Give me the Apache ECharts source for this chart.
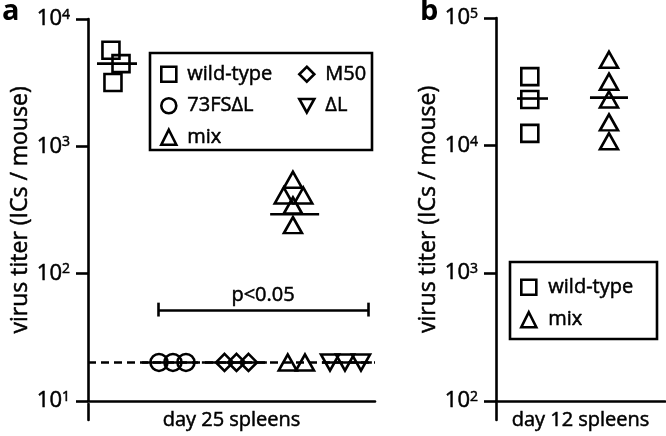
<!DOCTYPE html>
<html><head><meta charset="utf-8">
<script src="https://cdn.jsdelivr.net/npm/echarts@6/dist/echarts.min.js"></script>
<style>html,body{margin:0;padding:0;background:#fff}#c{width:666px;height:436px}</style>
</head><body><div id="c"></div>
<script>
// ---- Panel a : day 25 spleens (x = group position + jitter, y = titer) ----
const wildTypeA_x = [0.40, 0.575, 0.435];
const wildTypeA_y = [5680, 4460, 3170];
const fs73_x = [1.237, 1.48, 1.707];
const fs73_y = [20, 20, 20];
const m50_x = [2.378, 2.587, 2.796];
const m50_y = [20, 20, 20];
const mixA_x = [3.57, 3.41, 3.75, 3.57, 3.57, 3.48, 3.78];
const mixA_y = [546, 410, 410, 343, 240, 20, 20];
const dL_x = [4.216, 4.477, 4.756];
const dL_y = [20, 20, 20];
const mediansA_x = [0.505, 1.43, 2.55, 3.6, 4.51];
const mediansA_y = [4460, 20, 20, 292, 20];
const detectionLimit = 20;
const pBracket = {x0: 1.22, x1: 4.878, y: 51, yLow: 45.9, yHigh: 59, text: 'p<0.05'};

// ---- Panel b : day 12 spleens ----
const wildTypeB_x = [0.40, 0.40, 0.40];
const wildTypeB_y = [34700, 22950, 12470];
const mixB_x = [1.337, 1.337, 1.337, 1.337, 1.337];
const mixB_y = [47100, 31700, 22950, 15200, 10820];
const mediansB_x = [0.432, 1.337];
const mediansB_y = [23380, 23780];

// text
const yTitle = 'virus titer (ICs / mouse)';
const xTitleA = 'day 25 spleens';
const xTitleB = 'day 12 spleens';

// styles (not data)
const medianWidthsA = [40, 56, 65, 49, 50];
const medianWidthsB = [31, 38];
const FONT = "'Open Sans', sans-serif";
const TB = {textBorderColor: '#000', textBorderWidth: 0.5};
const LW = 2.6;
const DOWN_TRI = 'path://M0,0L20,0L10,18Z';

const zip = (xs, ys) => xs.map((x, i) => [x, ys[i]]);
const hollow = {color: 'rgba(0,0,0,0)', borderColor: '#000', borderWidth: LW, opacity: 1};

function scatter(name, xs, ys, symbol, size, grid, extra) {
  return Object.assign({
    type: 'scatter', name, xAxisIndex: grid, yAxisIndex: grid,
    data: zip(xs, ys), symbol, symbolSize: size,
    itemStyle: hollow, emphasis: {disabled: true}, silent: true, z: 3
  }, extra || {});
}
function medians(xs, ys, widths, grid) {
  return {
    type: 'scatter', name: 'median' + grid, xAxisIndex: grid, yAxisIndex: grid,
    data: xs.map((x, i) => ({value: [x, ys[i]], symbolSize: [widths[i], LW]})),
    symbol: 'rect', itemStyle: {color: '#000', opacity: 1}, emphasis: {disabled: true}, silent: true, z: 4
  };
}
const logLabel = {
  fontFamily: FONT, color: '#000', margin: 18,
  formatter: v => '{b|10}{s|' + Math.round(Math.log10(v)) + '}',
  rich: {
    b: Object.assign({fontSize: 22, fontFamily: FONT, color: '#000', lineHeight: 22}, TB),
    s: Object.assign({fontSize: 14, fontFamily: FONT, color: '#000', verticalAlign: 'top', lineHeight: 14}, TB)
  }
};
function yLog(grid, min, max, gap) {
  return {
    type: 'log', logBase: 10, gridIndex: grid, min, max,
    name: yTitle, nameLocation: 'middle', nameRotate: 90, nameGap: gap,
    nameTextStyle: Object.assign({fontFamily: FONT, fontSize: 23, color: '#000'}, TB),
    axisLine: {show: true, lineStyle: {color: '#000', width: LW}},
    axisTick: {show: true, length: 12, lineStyle: {color: '#000', width: LW}},
    minorTick: {show: false}, splitLine: {show: false}, minorSplitLine: {show: false},
    axisLabel: logLabel
  };
}
function xVal(grid, min, max, name) {
  return {
    type: 'value', gridIndex: grid, min, max,
    name, nameLocation: 'middle', nameGap: 10,
    nameTextStyle: Object.assign({fontFamily: FONT, fontSize: 20, color: '#000', verticalAlign: 'top'}, TB),
    axisLine: {show: true, onZero: false, lineStyle: {color: '#000', width: LW}},
    axisTick: {show: false}, axisLabel: {show: false}, splitLine: {show: false}
  };
}
function stub(grid) {
  return {type: 'value', gridIndex: grid, min: 0, max: 1,
    axisLine: {show: true, lineStyle: {color: '#000', width: LW}},
    axisTick: {show: false}, axisLabel: {show: false}, splitLine: {show: false}};
}
const legendText = pad => Object.assign({fontFamily: FONT, fontSize: 20, color: '#000', lineHeight: 20, padding: [0, 0, 0, pad]}, TB);
function legend(data, left, top, gap, pad) {
  return {
    orient: 'vertical', left, top, itemWidth: 15, itemHeight: 15, itemGap: gap, padding: 0,
    data, selectedMode: false, textStyle: legendText(pad),
    itemStyle: {color: 'rgba(0,0,0,0)', borderColor: '#000', borderWidth: LW, opacity: 1}
  };
}

const chart = echarts.init(document.getElementById('c'), null, {renderer: 'canvas'});
chart.setOption({
  animation: false,
  backgroundColor: '#fff',
  grid: [
    {left: 88, top: 19, width: 287, height: 385},
    {left: 496, top: 18, width: 169, height: 385},
    {left: 88, top: 404, width: 1, height: 16},
    {left: 496, top: 403, width: 1, height: 17}
  ],
  xAxis: [
    xVal(0, 0, 5, xTitleA),
    xVal(1, 0, 2, xTitleB),
    Object.assign(stub(2), {show: false}),
    Object.assign(stub(3), {show: false})
  ],
  yAxis: [yLog(0, 10, 10000, 56), yLog(1, 100, 100000, 54), stub(2), stub(3)],
  legend: [
    legend(['wild-type', '73FSΔL', 'mix'], 160, 64, 11, 6),
    legend(['M50', {name: 'ΔL', icon: DOWN_TRI}], 298, 64, 11, 6),
    legend(['wild-type', 'mix'], 520, 277, 12, 7)
  ],
  graphic: [
    {type: 'rect', shape: {x: 150, y: 53, width: 222, height: 97}, style: {fill: 'none', stroke: '#000', lineWidth: LW}, silent: true},
    {type: 'rect', shape: {x: 510, y: 262, width: 147, height: 77}, style: {fill: 'none', stroke: '#000', lineWidth: LW}, silent: true},
    {type: 'text', left: 2, top: -3, style: {text: 'a', fontFamily: FONT, fontWeight: 'bold', fontSize: 29, fill: '#000'}, silent: true},
    {type: 'text', left: 420, top: -3, style: {text: 'b', fontFamily: FONT, fontWeight: 'bold', fontSize: 29, fill: '#000'}, silent: true}
  ],
  series: [
    scatter('wild-type', wildTypeA_x, wildTypeA_y, 'rect', 17, 0),
    scatter('73FSΔL', fs73_x, fs73_y, 'circle', 17, 0, {
      markLine: {
        silent: true, symbol: 'none', animation: false,
        data: [{yAxis: detectionLimit}],
        label: {show: false},
        lineStyle: {color: '#000', width: LW, type: [8, 5], opacity: 1}
      }
    }),
    scatter('M50', m50_x, m50_y, 'diamond', 17, 0),
    scatter('mix', mixA_x, mixA_y, 'triangle', [18, 16], 0, {
      markLine: {
        silent: true, symbol: 'none', animation: false,
        lineStyle: {color: '#000', width: LW, type: 'solid', opacity: 1},
        label: {show: false},
        data: [
          [{coord: [pBracket.x0, pBracket.y], label: Object.assign({show: true, formatter: pBracket.text, position: 'insideMiddleTop', distance: 5, fontFamily: FONT, fontSize: 20, color: '#000'}, TB)},
           {coord: [pBracket.x1, pBracket.y]}],
          [{coord: [pBracket.x0, pBracket.yLow]}, {coord: [pBracket.x0, pBracket.yHigh]}],
          [{coord: [pBracket.x1, pBracket.yLow]}, {coord: [pBracket.x1, pBracket.yHigh]}]
        ]
      }
    }),
    scatter('ΔL', dL_x, dL_y, DOWN_TRI, [18, 16], 0),
    medians(mediansA_x, mediansA_y, medianWidthsA, 0),
    scatter('wild-type', wildTypeB_x, wildTypeB_y, 'rect', 17, 1),
    scatter('mix', mixB_x, mixB_y, 'triangle', [18, 16], 1),
    medians(mediansB_x, mediansB_y, medianWidthsB, 1)
  ]
});
</script></body></html>
